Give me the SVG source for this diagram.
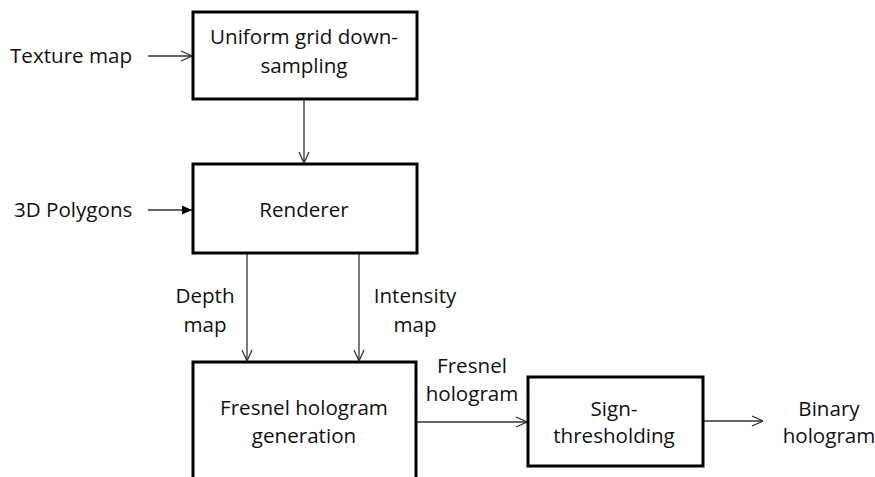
<svg xmlns="http://www.w3.org/2000/svg" width="875" height="477" viewBox="0 0 875 477">
  <style>
    .box { fill: #ffffff; stroke: #000000; stroke-width: 3; }
    .lbl { font-family: "Open Sans", "Liberation Sans", sans-serif; font-size: 20.6px; fill: #111111; }
    .mid { text-anchor: middle; }
    .wire { stroke: #333333; stroke-width: 1.3; fill: none; }
  </style>
  <defs>
    <marker id="open" viewBox="0 0 12 12" refX="12" refY="6" markerWidth="12" markerHeight="12" markerUnits="userSpaceOnUse" orient="auto">
      <path d="M1,1 L12,6 L1,11" fill="none" stroke="#333333" stroke-width="1.3"/>
    </marker>
    <marker id="solid" viewBox="0 0 10 10" refX="10" refY="5" markerWidth="10" markerHeight="10" markerUnits="userSpaceOnUse" orient="auto">
      <path d="M0,0.5 L10,5 L0,9.5 Z" fill="#000000"/>
    </marker>
  </defs>

  <rect width="875" height="477" fill="#ffffff"/>

  <g id="connectors">
    <line class="wire" x1="148" y1="56" x2="192" y2="56" marker-end="url(#open)"/>
    <line class="wire" x1="304" y1="100" x2="304" y2="163" marker-end="url(#open)"/>
    <line class="wire" x1="148" y1="210" x2="192" y2="210" marker-end="url(#solid)"/>
    <line class="wire" x1="247" y1="254" x2="247" y2="361" marker-end="url(#open)"/>
    <line class="wire" x1="359" y1="254" x2="359" y2="361" marker-end="url(#open)"/>
    <line class="wire" x1="417" y1="422" x2="527" y2="422" marker-end="url(#open)"/>
    <line class="wire" x1="704" y1="421" x2="763" y2="421" marker-end="url(#open)"/>
  </g>

  <g id="texture-map">
    <text class="lbl" x="10" y="63">Texture map</text>
  </g>
  <g id="polygons-3d">
    <text class="lbl" x="14" y="217">3D Polygons</text>
  </g>

  <g id="downsampling">
    <rect class="box" x="193" y="12" width="224" height="87"/>
    <text class="lbl mid" x="304" y="44">Uniform grid down-</text>
    <text class="lbl mid" x="304" y="73">sampling</text>
  </g>

  <g id="renderer">
    <rect class="box" x="193" y="164" width="224" height="89"/>
    <text class="lbl mid" x="304" y="217">Renderer</text>
  </g>

  <g id="depth-map">
    <text class="lbl mid" x="205" y="303">Depth</text>
    <text class="lbl mid" x="205" y="332">map</text>
  </g>
  <g id="intensity-map">
    <text class="lbl mid" x="415" y="303">Intensity</text>
    <text class="lbl mid" x="415" y="332">map</text>
  </g>

  <g id="fresnel-generation">
    <rect class="box" x="193" y="362" width="223" height="130"/>
    <text class="lbl mid" x="304" y="415">Fresnel hologram</text>
    <text class="lbl mid" x="304" y="443">generation</text>
  </g>

  <g id="fresnel-hologram">
    <text class="lbl mid" x="472" y="373">Fresnel</text>
    <text class="lbl mid" x="472" y="401">hologram</text>
  </g>

  <g id="sign-thresholding">
    <rect class="box" x="528" y="377" width="175" height="89"/>
    <text class="lbl mid" x="614" y="416">Sign-</text>
    <text class="lbl mid" x="614" y="443">thresholding</text>
  </g>

  <g id="binary-hologram">
    <text class="lbl mid" x="829" y="416">Binary</text>
    <text class="lbl mid" x="829" y="443">hologram</text>
  </g>
</svg>
